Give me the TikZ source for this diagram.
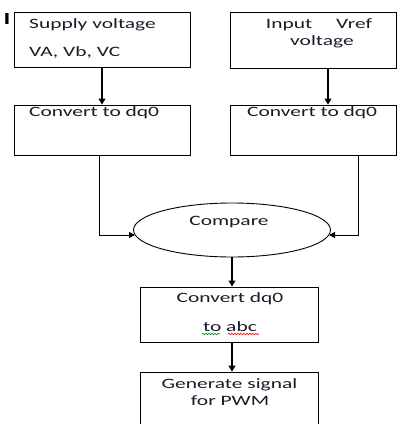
\documentclass[tikz,border=0pt]{standalone}
\usepackage{fontspec}
\setmainfont[FakeStretch=1.5]{Carlito}
\usetikzlibrary{shapes.geometric,arrows.meta,calc,decorations.pathmorphing}
\definecolor{txt}{HTML}{1A1A28}
\begin{document}
\begin{tikzpicture}[x=1pt,y=-1pt,
  box/.style={draw,line width=0.9pt,rectangle,inner sep=0pt},
  lbl/.style={font=\fontsize{14.3}{16}\selectfont,text=txt,inner sep=0pt},
  arr/.style={line width=1.2pt,-{Triangle[length=6pt,width=7pt]}},
  wire/.style={line width=1pt,-{Triangle[length=6pt,width=6pt]}},
  squig/.style={decorate,decoration={snake,amplitude=0.8pt,segment length=3pt},line width=0.6pt}]
\useasboundingbox (0,0) rectangle (398,424);
\node[font=\bfseries\fontsize{17}{17}\selectfont,inner sep=0pt] (I) at (7,19) {I};
\node[box,minimum width=176pt,minimum height=55pt] (b1) at (102,39.5) {};
\node[box,minimum width=166pt,minimum height=56pt] (b2) at (313,40) {};
\node[box,minimum width=176pt,minimum height=50pt] (b3) at (102,130) {};
\node[box,minimum width=166pt,minimum height=50pt] (b4) at (313,130) {};
\node[draw,line width=0.9pt,ellipse,minimum width=197pt,minimum height=54pt,inner sep=0pt] (cmp) at (232,230) {};
\node[box,minimum width=178pt,minimum height=55pt] (b5) at (229,314.5) {};
\node[box,minimum width=178pt,minimum height=60pt] (b6) at (229,402) {};
% texts
\node[lbl,anchor=west] (t1) at (29,25) {Supply voltage};
\node[lbl,anchor=west] (t2) at (29,52) {VA, Vb, VC};
\node[lbl] (t3) at (319,25) {Input\hspace{24pt}Vref};
\node[lbl] (t4) at (322,42) {voltage};
\node[lbl,anchor=west] (t5) at (29,113) {Convert to dq0};
\node[lbl,anchor=west] (t6) at (247,113) {Convert to dq0};
\node[lbl] (t7) at (229,222) {Compare};
\node[lbl] (t8) at (230,299) {Convert dq0};
\node[lbl] (t9) at (230,327) {to abc};
\node[lbl] (t10) at (229.5,385) {Generate signal};
\node[lbl] (t11) at (230,401) {for PWM};
\coordinate (g1) at (202,334);
\coordinate (g2) at (220,334);
\coordinate (r1) at (228,334);
\coordinate (r2) at (259,334);
\draw[squig,green!55!black] (g1) -- (g2);
\draw[squig,red] (r1) -- (r2);
% connectors
\coordinate (x1) at (102,0);
\coordinate (x2) at (328,0);
\coordinate (x3) at (232,0);
\coordinate (xl) at (99,235);
\coordinate (xr) at (358,235);
\draw[arr] (b1.south -| x1) -- (b3.north -| x1);
\draw[arr] (b2.south -| x2) -- (b4.north -| x2);
\draw[wire] (b3.south -| xl) -- (xl) -- ($(cmp.center)+(-97,5)$);
\draw[wire] (b4.south -| xr) -- (xr) -- ($(cmp.center)+(97,5)$);
\draw[arr] (cmp.south) -- (b5.north -| x3);
\draw[arr] (b5.south -| x3) -- (b6.north -| x3);
\end{tikzpicture}
\end{document}
